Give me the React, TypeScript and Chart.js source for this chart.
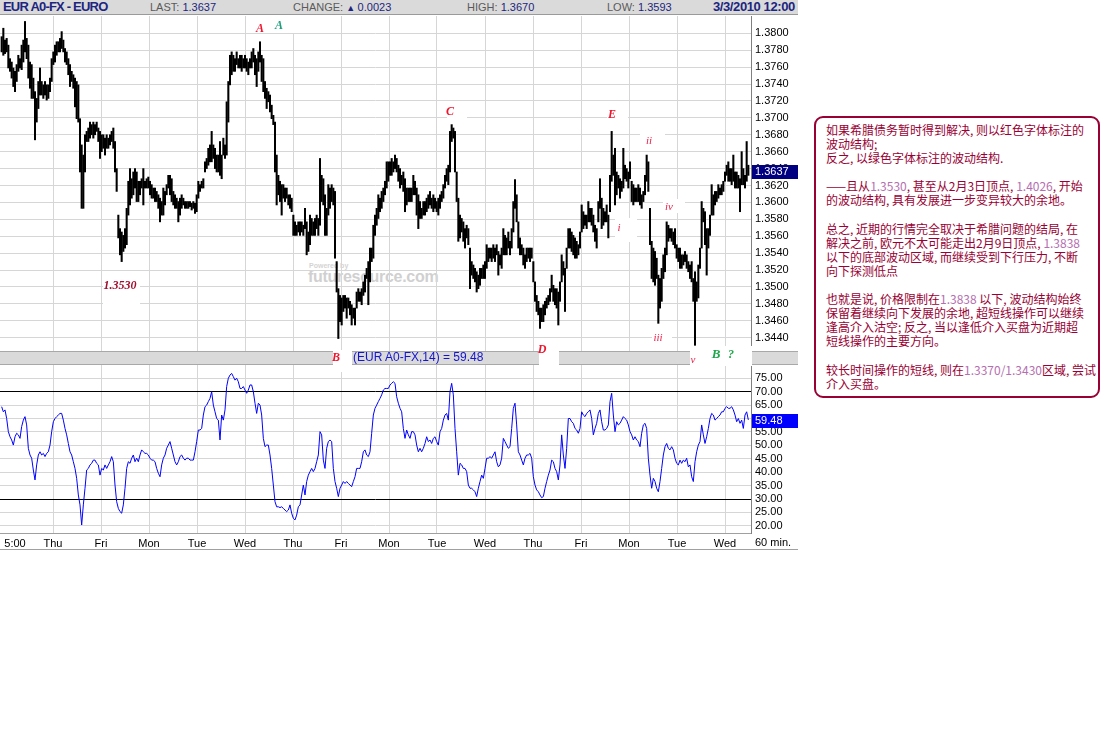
import React, { useEffect, useRef } from "react";
import { Chart, registerables } from "chart.js";
Chart.register(...registerables);

// ---------- DATA ----------
const priceHigh = [
1.3796,1.3806,1.3792,1.3794,1.3786,1.3770,1.3766,1.3759,1.3755,1.3763,
1.3774,1.3770,1.3786,1.3792,1.3814,1.3794,1.3786,1.3766,1.3763,1.3747,
1.3731,1.3723,1.3743,1.3759,1.3743,1.3739,1.3743,1.3739,1.3739,1.3747,
1.3770,1.3778,1.3786,1.3790,1.3790,1.3794,1.3802,1.3792,1.3782,1.3778,
1.3770,1.3763,1.3755,1.3751,1.3747,1.3743,1.3739,1.3699,1.3668,1.3656,
1.3680,1.3684,1.3688,1.3695,1.3692,1.3695,1.3692,1.3695,1.3688,1.3684,
1.3680,1.3680,1.3676,1.3680,1.3676,1.3680,1.3684,1.3688,1.3672,1.3640,
1.3585,1.3569,1.3565,1.3561,1.3569,1.3593,1.3625,1.3640,1.3628,1.3636,
1.3640,1.3636,1.3625,1.3625,1.3628,1.3640,1.3625,1.3628,1.3630,1.3625,
1.3621,1.3617,1.3617,1.3613,1.3609,1.3605,1.3601,1.3617,1.3613,1.3621,
1.3632,1.3632,1.3628,1.3613,1.3609,1.3605,1.3601,1.3605,1.3609,1.3605,
1.3601,1.3601,1.3601,1.3601,1.3599,1.3601,1.3599,1.3609,1.3625,1.3621,
1.3625,1.3628,1.3648,1.3652,1.3664,1.3668,1.3684,1.3668,1.3664,1.3656,
1.3656,1.3672,1.3656,1.3676,1.3668,1.3719,1.3743,1.3774,1.3778,1.3774,
1.3770,1.3778,1.3770,1.3774,1.3774,1.3770,1.3774,1.3770,1.3766,1.3770,
1.3778,1.3782,1.3774,1.3770,1.3778,1.3790,1.3774,1.3770,1.3743,1.3735,
1.3731,1.3727,1.3715,1.3703,1.3695,1.3656,1.3632,1.3625,1.3621,1.3621,
1.3617,1.3617,1.3609,1.3609,1.3605,1.3585,1.3577,1.3573,1.3577,1.3577,
1.3577,1.3573,1.3593,1.3577,1.3565,1.3585,1.3581,1.3577,1.3581,1.3585,
1.3581,1.3652,1.3632,1.3628,1.3609,1.3593,1.3621,1.3617,1.3621,1.3617,
1.3613,1.3530,1.3498,1.3490,1.3487,1.3490,1.3490,1.3487,1.3487,1.3483,
1.3479,1.3475,1.3475,1.3494,1.3498,1.3494,1.3498,1.3506,1.3514,1.3522,
1.3530,1.3546,1.3546,1.3573,1.3585,1.3593,1.3609,1.3605,1.3613,1.3617,
1.3625,1.3648,1.3648,1.3648,1.3652,1.3648,1.3656,1.3652,1.3644,1.3640,
1.3632,1.3636,1.3628,1.3617,1.3617,1.3617,1.3617,1.3632,1.3625,1.3617,
1.3609,1.3601,1.3593,1.3601,1.3601,1.3605,1.3609,1.3613,1.3605,1.3609,
1.3605,1.3601,1.3605,1.3609,1.3613,1.3621,1.3632,1.3640,1.3644,1.3684,
1.3692,1.3688,1.3684,1.3636,1.3605,1.3585,1.3581,1.3577,1.3569,1.3573,
1.3569,1.3546,1.3530,1.3526,1.3522,1.3518,1.3514,1.3522,1.3522,1.3526,
1.3530,1.3550,1.3546,1.3546,1.3546,1.3550,1.3546,1.3550,1.3542,1.3538,
1.3546,1.3569,1.3561,1.3558,1.3565,1.3554,1.3569,1.3601,1.3627,1.3609,
1.3577,1.3558,1.3550,1.3546,1.3538,1.3546,1.3546,1.3546,1.3546,1.3530,
1.3506,1.3490,1.3483,1.3475,1.3475,1.3479,1.3483,1.3487,1.3490,1.3498,
1.3514,1.3502,1.3498,1.3498,1.3494,1.3506,1.3538,1.3530,1.3522,1.3546,
1.3569,1.3569,1.3565,1.3561,1.3558,1.3554,1.3550,1.3565,1.3597,1.3589,
1.3585,1.3585,1.3601,1.3593,1.3593,1.3585,1.3573,1.3569,1.3601,1.3628,
1.3605,1.3593,1.3589,1.3597,1.3585,1.3632,1.3684,1.3656,1.3664,1.3636,
1.3632,1.3628,1.3625,1.3664,1.3644,1.3640,1.3636,1.3648,1.3625,1.3621,
1.3617,1.3617,1.3621,1.3617,1.3609,1.3613,1.3632,1.3656,1.3648,1.3593,
1.3554,1.3546,1.3542,1.3534,1.3514,1.3510,1.3522,1.3538,1.3546,1.3577,
1.3573,1.3569,1.3569,1.3565,1.3569,1.3550,1.3546,1.3546,1.3538,1.3538,
1.3542,1.3538,1.3530,1.3526,1.3530,1.3510,1.3518,1.3506,1.3526,1.3546,
1.3601,1.3593,1.3589,1.3569,1.3569,1.3585,1.3621,1.3609,1.3613,1.3613,
1.3621,1.3617,1.3621,1.3625,1.3636,1.3644,1.3648,1.3640,1.3640,1.3656,
1.3636,1.3636,1.3632,1.3628,1.3660,1.3640,1.3632,1.3672,1.3644
];

const priceLow = [
1.3778,1.3774,1.3776,1.3778,1.3759,1.3755,1.3747,1.3737,1.3731,1.3743,
1.3755,1.3759,1.3757,1.3766,1.3778,1.3770,1.3747,1.3735,1.3723,1.3723,
1.3674,1.3695,1.3711,1.3727,1.3727,1.3723,1.3727,1.3721,1.3723,1.3731,
1.3743,1.3763,1.3766,1.3774,1.3778,1.3778,1.3782,1.3778,1.3766,1.3763,
1.3751,1.3737,1.3743,1.3735,1.3713,1.3699,1.3695,1.3636,1.3593,1.3593,
1.3636,1.3672,1.3672,1.3676,1.3680,1.3676,1.3680,1.3684,1.3672,1.3652,
1.3660,1.3664,1.3656,1.3664,1.3664,1.3668,1.3672,1.3664,1.3636,1.3613,
1.3558,1.3538,1.3530,1.3542,1.3546,1.3550,1.3585,1.3597,1.3605,1.3609,
1.3617,1.3601,1.3601,1.3609,1.3617,1.3597,1.3617,1.3617,1.3617,1.3609,
1.3605,1.3605,1.3601,1.3601,1.3593,1.3577,1.3585,1.3585,1.3597,1.3609,
1.3617,1.3609,1.3601,1.3597,1.3593,1.3593,1.3577,1.3585,1.3593,1.3597,
1.3593,1.3593,1.3593,1.3595,1.3591,1.3593,1.3587,1.3589,1.3605,1.3613,
1.3617,1.3617,1.3636,1.3640,1.3644,1.3648,1.3648,1.3652,1.3640,1.3636,
1.3636,1.3632,1.3628,1.3656,1.3652,1.3656,1.3695,1.3739,1.3751,1.3755,
1.3755,1.3763,1.3759,1.3759,1.3755,1.3759,1.3759,1.3755,1.3751,1.3759,
1.3759,1.3766,1.3751,1.3737,1.3755,1.3766,1.3743,1.3731,1.3723,1.3711,
1.3719,1.3707,1.3699,1.3692,1.3636,1.3597,1.3609,1.3601,1.3585,1.3605,
1.3601,1.3605,1.3597,1.3593,1.3589,1.3561,1.3561,1.3561,1.3565,1.3561,
1.3565,1.3561,1.3569,1.3538,1.3542,1.3550,1.3561,1.3561,1.3561,1.3569,
1.3561,1.3573,1.3601,1.3597,1.3561,1.3561,1.3585,1.3593,1.3601,1.3597,
1.3534,1.3494,1.3439,1.3459,1.3455,1.3471,1.3475,1.3463,1.3475,1.3467,
1.3455,1.3463,1.3455,1.3475,1.3483,1.3483,1.3479,1.3490,1.3494,1.3510,
1.3479,1.3506,1.3530,1.3534,1.3561,1.3573,1.3581,1.3589,1.3593,1.3601,
1.3609,1.3617,1.3625,1.3632,1.3632,1.3636,1.3640,1.3636,1.3625,1.3617,
1.3621,1.3613,1.3589,1.3597,1.3601,1.3601,1.3601,1.3609,1.3609,1.3585,
1.3569,1.3581,1.3581,1.3585,1.3585,1.3589,1.3593,1.3597,1.3593,1.3589,
1.3593,1.3589,1.3585,1.3593,1.3601,1.3605,1.3617,1.3625,1.3621,1.3636,
1.3672,1.3676,1.3636,1.3601,1.3554,1.3558,1.3565,1.3554,1.3546,1.3558,
1.3550,1.3498,1.3514,1.3510,1.3506,1.3494,1.3498,1.3502,1.3510,1.3510,
1.3510,1.3522,1.3530,1.3534,1.3530,1.3534,1.3530,1.3538,1.3514,1.3526,
1.3522,1.3538,1.3538,1.3538,1.3546,1.3538,1.3546,1.3565,1.3593,1.3577,
1.3546,1.3538,1.3538,1.3526,1.3522,1.3530,1.3534,1.3530,1.3534,1.3506,
1.3483,1.3471,1.3467,1.3451,1.3459,1.3459,1.3467,1.3475,1.3479,1.3483,
1.3494,1.3483,1.3479,1.3475,1.3455,1.3483,1.3506,1.3514,1.3471,1.3522,
1.3546,1.3546,1.3542,1.3538,1.3534,1.3534,1.3538,1.3546,1.3565,1.3569,
1.3573,1.3569,1.3577,1.3577,1.3573,1.3565,1.3554,1.3546,1.3577,1.3593,
1.3569,1.3573,1.3577,1.3577,1.3558,1.3589,1.3625,1.3632,1.3597,1.3609,
1.3617,1.3605,1.3613,1.3617,1.3628,1.3625,1.3617,1.3628,1.3601,1.3597,
1.3601,1.3601,1.3601,1.3597,1.3593,1.3601,1.3609,1.3625,1.3613,1.3550,
1.3510,1.3506,1.3502,1.3510,1.3457,1.3475,1.3483,1.3510,1.3518,1.3538,
1.3554,1.3558,1.3554,1.3550,1.3546,1.3534,1.3530,1.3522,1.3522,1.3526,
1.3530,1.3522,1.3518,1.3510,1.3506,1.3483,1.3431,1.3483,1.3487,1.3522,
1.3546,1.3577,1.3550,1.3514,1.3546,1.3561,1.3585,1.3585,1.3597,1.3601,
1.3605,1.3609,1.3609,1.3613,1.3625,1.3632,1.3625,1.3625,1.3621,1.3625,
1.3617,1.3617,1.3617,1.3589,1.3621,1.3621,1.3617,1.3625,1.3632
];

const rsiValues = [
64.4,62.5,63.2,60,55.1,53.2,52,50.1,53.2,54.5,
53.9,52.6,57,59.4,60.7,57.6,48.9,46.4,45.2,40.8,
37.1,42.7,46.4,47.6,46.4,47,45.8,47,47.6,50.1,
55.1,58.8,60,60.7,61.3,61.9,61.9,59.4,56.3,53.9,
50.7,47.6,46.4,43.9,41.4,37.7,31.5,27.8,20.3,27.8,
34,40.8,41.4,42.7,43.3,44.5,44.5,43.3,42.7,38.9,
41.4,40.8,42.7,41.4,42.7,43.9,45.8,43.9,35.2,29,
26.5,25.3,24.7,27.8,34,41.4,43.9,43.3,45.2,46.4,
43.9,45.2,43.9,46.4,48.3,47.6,47,47,46.4,45.2,
44.5,44.5,43.9,41.4,39.6,38.3,42.7,45.2,46.4,48.9,
50.1,51.4,48.9,46.4,43.9,42.7,43.9,45.8,46.4,45.2,
44.5,45.2,45.2,44.5,44.5,44.5,47.6,51.4,55.7,55.7,
56.3,61.3,64.4,65,66.3,67.5,70,65,62.5,60,
59.4,52,61.3,59.4,63.2,71.9,75,76.2,76.8,75.6,
74.3,75,73.7,71.2,71.2,71.9,70.6,69.4,70.6,72.5,
72.5,70,65.7,61.9,65.7,65,61.3,52.6,49.5,50.1,
50.1,46.4,41.4,35.2,29,27.1,27.1,26.8,27.1,26.5,
25.9,25.3,25.9,27.8,24.7,22.8,22.2,24,27.1,27.8,
31.5,35.2,31.5,36.5,38.9,40.2,41.4,40.2,41.4,43.9,
46.4,55.1,53.9,44.5,41.4,48.9,51.4,52,51.4,41.4,
36.5,34,30.9,34,35.2,36.5,35.8,36.5,35.8,35.2,
34.6,36.5,38.3,41.4,41.4,41.4,43.9,47.6,48.3,46.4,
45.8,47.6,54.5,61.3,63.8,65,66.3,67.5,68.8,70.6,
71.2,71.2,71.2,72.5,73.1,73.7,73.1,68.1,65.7,63.8,
62.5,56.3,52.6,55.7,53.9,52.6,55.1,55.1,53.9,50.1,
47.6,48.9,47.6,48.9,50.7,53.2,51.4,52,50.7,52.6,
53.2,51.4,50.1,55.1,56.3,59.4,61.3,61.9,59.4,70,
73.1,68.8,56.3,47.6,38.9,43.3,42.7,41.4,41.4,40.2,
35.2,34,34,33.4,32.7,30.9,34,36.5,38.9,37.7,
41.4,45.2,45.2,45.8,45.2,46.4,47.6,43.9,42,42.7,
45.2,52.6,51.4,50.1,48.9,49.5,56.3,63.8,65.7,57.6,
47.6,46.4,44.5,42.7,45.2,46.4,46.4,47,45.2,38.3,
35.2,33.4,32.7,31.5,30.5,30.9,34,36.5,38.9,40.8,
44.5,43.9,41.4,40.2,37.1,42.7,53.9,46.4,41.4,48.9,
60,60,58.8,58.2,56.3,55.7,54.5,56.3,62.5,61.3,
60.7,61.9,62.5,63.2,60,53.9,56.3,58.2,61.9,63.2,
58.8,55.7,55.7,56.3,57.6,66.3,69.4,61.3,55.1,58.8,
57.6,58.2,59.4,60.7,60,59.4,57.6,55.1,53.9,52,
53.2,52,51.4,49.5,54.5,57.6,58.2,56.3,45.2,38.9,
34,37.7,36.5,34,32.7,36.5,41.4,46.4,49.5,50.7,
48.9,48.3,49.5,48.3,45.2,43.3,42.7,44.5,43.3,44.5,
43.9,45.2,42,42.7,38.3,36.5,43.9,47.6,50.1,51.4,
57.6,53.9,50.7,53.2,56.3,60,61.9,61.3,59.4,60,
60.7,61.3,62.5,62.5,63.8,64.4,63.8,63.8,64.4,63.2,
61.3,58.8,60,58.2,59.4,56.3,61.3,62.5,59.48
];

const priceTicks = [1.344,1.346,1.348,1.35,1.352,1.354,1.356,1.358,1.36,1.362,1.364,1.366,1.368,1.37,1.372,1.374,1.376,1.378,1.38];
const rsiTicks = [20,25,30,35,40,45,50,55,60,65,70,75];
const rsiBands = [30, 70];
const dayLabels = ["Thu","Fri","Mon","Tue","Wed","Thu","Fri","Mon","Tue","Wed","Thu","Fri","Mon","Tue","Wed"];
const dayTickPos = [31.8,60.6,89.4,118.2,147,175.8,204.6,233.4,262.2,291,319.8,348.6,377.4,406.2,435];
const startLabel = "5:00";
const startTickPos = 9;
const lastPrice = 1.3637;
const lastRsi = 59.48;

const X_MAX = 450.6;
const P_MIN = 1.342427, P_MAX = 1.382046;
const R_MIN = 17.33, R_MAX = 79.94;
const GRID = "#d6d6d6";
const FONT = 'Arial, "Liberation Sans", sans-serif';

const textLines = [
  "如果希腊债务暂时得到解决, 则以红色字体标注的",
  "波动结构;",
  "反之, 以绿色字体标注的波动结构.",
  "",
  "——且从1.3530, 甚至从2月3日顶点, 1.4026, 开始",
  "的波动结构, 具有发展进一步变异较大的余地。",
  "",
  "总之, 近期的行情完全取决于希腊问题的结局, 在",
  "解决之前, 欧元不太可能走出2月9日顶点, 1.3838",
  "以下的底部波动区域, 而继续受到下行压力, 不断",
  "向下探测低点",
  "",
  "也就是说, 价格限制在1.3838 以下, 波动结构始终",
  "保留着继续向下发展的余地, 超短线操作可以继续",
  "逢高介入沽空; 反之, 当以逢低介入买盘为近期超",
  "短线操作的主要方向。",
  "",
  "较长时间操作的短线, 则在1.3370/1.3430区域, 尝试",
  "介入买盘。",
];

const RED = "#f0142d";
const GREEN = "#1fa84a";
type Lbl = { t: string; x: number; y: number; c: string; s?: number; b?: boolean };
const waveLabels: Lbl[] = [
  { t: "A", x: 260, y: 28, c: RED, b: true },
  { t: "A", x: 279, y: 25, c: "#1aa07a", b: true },
  { t: "1.3530", x: 120, y: 285, c: "#a01030", s: 12, b: true },
  { t: "B", x: 336, y: 357, c: RED, b: true },
  { t: "C", x: 450, y: 111, c: RED, b: true },
  { t: "D", x: 542, y: 349, c: RED, b: true },
  { t: "E", x: 612, y: 114, c: RED, b: true },
  { t: "ii", x: 649, y: 140, c: "#e8224a", s: 11 },
  { t: "i", x: 619, y: 227, c: "#e8224a", s: 11 },
  { t: "iv", x: 669, y: 206, c: "#e8224a", s: 11 },
  { t: "iii", x: 658, y: 337, c: "#e8224a", s: 11 },
  { t: "v", x: 693, y: 359, c: "#e8224a", s: 11 },
  { t: "B", x: 716, y: 354, c: GREEN, s: 13, b: true },
  { t: "?", x: 731, y: 354, c: GREEN, s: 12, b: true },
];
const whiteBoxes = [
  [255, 16, 45, 17], [103, 277, 37, 28], [333, 350, 19, 22], [447, 102, 20, 16],
  [539, 341, 20, 25], [607, 106, 21, 17], [640, 132, 25, 15], [615, 218, 22, 24],
  [663, 199, 22, 14], [652, 330, 20, 21], [690, 351, 62, 15], [712, 346, 40, 20],
];

function lastBox(value: number, color: string, digits: number) {
  return {
    id: "lastBox" + color,
    afterDraw(chart: any) {
      const { ctx, chartArea, scales } = chart;
      const y = scales.y.getPixelForValue(value);
      ctx.save();
      ctx.fillStyle = color;
      ctx.fillRect(chartArea.right + 1, Math.round(y) - 6, 46, 14);
      ctx.fillStyle = "#fff";
      ctx.font = "11px " + FONT;
      ctx.textBaseline = "middle";
      ctx.textAlign = "left";
      ctx.fillText(value.toFixed(digits), chartArea.right + 4, Math.round(y) + 1);
      ctx.restore();
    },
  };
}

function App() {
  const priceRef = useRef<HTMLCanvasElement>(null);
  const rsiRef = useRef<HTMLCanvasElement>(null);

  useEffect(() => {
    document.body.style.margin = "0";
    const zeroPad = (s: any) => { s.paddingTop = 0; s.paddingBottom = 0; s.paddingLeft = 0; s.paddingRight = 0; };
    const price = new Chart(priceRef.current as HTMLCanvasElement, {
      type: "bar",
      data: {
        datasets: [{
          data: priceHigh.map((h, i) => ({ x: i + 1, y: [priceLow[i], h] })) as any,
          backgroundColor: "#000",
          borderWidth: 0,
          barThickness: 1.4,
        }],
      },
      options: {
        animation: false, responsive: false, events: [],
        layout: { padding: 0, autoPadding: false },
        plugins: { legend: { display: false }, tooltip: { enabled: false } },
        scales: {
          x: {
            type: "linear", min: 0, max: X_MAX, offset: false,
            grid: { color: GRID, drawTicks: false, offset: false },
            border: { display: false },
            ticks: { display: false },
            afterBuildTicks: (s: any) => { s.ticks = dayTickPos.map((v) => ({ value: v })); },
            afterFit: (s: any) => { s.height = 0; zeroPad(s); },
          },
          y: {
            position: "right", min: P_MIN, max: P_MAX,
            grid: { color: GRID, drawTicks: false },
            border: { display: true, color: "#808080" },
            ticks: { autoSkip: false, padding: 4, color: "#000", font: { family: FONT, size: 11 }, callback: (v: any) => Number(v).toFixed(4) },
            afterBuildTicks: (s: any) => { s.ticks = priceTicks.map((v) => ({ value: v })); },
            afterFit: (s: any) => { s.width = 47; zeroPad(s); },
          },
        },
      } as any,
      plugins: [lastBox(lastPrice, "#000080", 4)],
    });

    const allPos = [startTickPos, ...dayTickPos];
    const allLabels = [startLabel, ...dayLabels];
    const rsi = new Chart(rsiRef.current as HTMLCanvasElement, {
      type: "line",
      data: {
        datasets: [{
          data: rsiValues.map((v, i) => ({ x: i + 1, y: v })),
          borderColor: "#0000ff", borderWidth: 1, pointRadius: 0, tension: 0, fill: false,
        }],
      },
      options: {
        animation: false, responsive: false, events: [],
        layout: { padding: 0, autoPadding: false },
        plugins: { legend: { display: false }, tooltip: { enabled: false } },
        scales: {
          x: {
            type: "linear", min: 0, max: X_MAX, offset: false,
            grid: { color: (c: any) => (c.index === 0 ? "rgba(0,0,0,0)" : GRID), drawTicks: false },
            border: { display: true, color: "#a0a0a0" },
            ticks: { autoSkip: false, maxRotation: 0, padding: 4, color: "#000", font: { family: FONT, size: 11 }, callback: (_v: any, i: number) => allLabels[i] },
            afterBuildTicks: (s: any) => { s.ticks = allPos.map((v) => ({ value: v })); },
            afterFit: (s: any) => { s.height = 17; zeroPad(s); },
          },
          y: {
            position: "right", min: R_MIN, max: R_MAX,
            grid: { color: (c: any) => (c.tick && rsiBands.includes(c.tick.value) ? "#000" : GRID), drawTicks: false },
            border: { display: true, color: "#808080" },
            ticks: { autoSkip: false, padding: 4, color: "#000", font: { family: FONT, size: 11 }, callback: (v: any) => Number(v).toFixed(2) },
            afterBuildTicks: (s: any) => { s.ticks = rsiTicks.map((v) => ({ value: v })); },
            afterFit: (s: any) => { s.width = 47; zeroPad(s); },
          },
        },
      } as any,
      plugins: [lastBox(lastRsi, "#0000ff", 2)],
    });
    return () => { price.destroy(); rsi.destroy(); };
  }, []);

  const abs = (l: number, t: number, extra: any = {}) => ({ position: "absolute", left: l, top: t, ...extra } as React.CSSProperties);
  const hdr = { fontFamily: FONT, fontSize: 11, lineHeight: "14px", whiteSpace: "nowrap" } as React.CSSProperties;
  const gray = "#5a5a5a", navy = "#1c2580";

  const renderLine = (s: string) =>
    s.split(/(\d\.\d{4}(?:\/\d\.\d{4})?)/).map((p, i) =>
      /^\d\.\d{4}/.test(p) ? <span key={i} style={{ color: "#b56fb0" }}>{p}</span> : <span key={i}>{p}</span>
    );

  return (
    <div style={{ position: "relative", width: 1107, height: 732, background: "#fff", overflow: "hidden" }}>
      {/* header */}
      <div style={abs(0, 0, { width: 798, height: 14, background: "#dadada", borderBottom: "1px solid #9a9a9a" })} />
      <div style={abs(3, 0, { ...hdr, fontSize: 13, fontWeight: "bold", color: navy, letterSpacing: -0.8 })}>EUR A0-FX - EURO</div>
      <div style={abs(150, 0, hdr)}><span style={{ color: gray }}>LAST: </span><span style={{ color: navy }}>1.3637</span></div>
      <div style={abs(293, 0, hdr)}><span style={{ color: gray }}>CHANGE: </span><span style={{ color: navy, fontSize: 9 }}>▲ </span><span style={{ color: navy }}>0.0023</span></div>
      <div style={abs(467, 0, hdr)}><span style={{ color: gray }}>HIGH: </span><span style={{ color: navy }}>1.3670</span></div>
      <div style={abs(607, 0, hdr)}><span style={{ color: gray }}>LOW: </span><span style={{ color: navy }}>1.3593</span></div>
      <div style={abs(713, 0, { ...hdr, fontSize: 13, fontWeight: "bold", color: navy, letterSpacing: -0.4 })}>3/3/2010 12:00</div>

      {/* watermark (behind the bars) */}
      <div style={abs(309, 262, { fontFamily: FONT, fontSize: 7, color: "#d4d4d4", fontWeight: "bold" })}>Powered by</div>
      <div style={abs(308, 268, { fontFamily: FONT, fontSize: 16, lineHeight: "18px", color: "#d0d0d0", fontWeight: "bold", letterSpacing: -0.3 })}>futuresource.com</div>

      <canvas ref={priceRef} width={798} height={335} style={abs(0, 16, { display: "block" })} />

      {/* RSI title bar */}
      <div style={abs(0, 351, { width: 798, height: 12, background: "#dadada", borderTop: "1px solid #a8a8a8", borderBottom: "1px solid #a8a8a8" })} />
      <div style={abs(353, 350, { fontFamily: FONT, fontSize: 12, lineHeight: "15px", color: "#1414d0", whiteSpace: "nowrap" })}>(EUR A0-FX,14) = 59.48</div>

      <canvas ref={rsiRef} width={798} height={185} style={abs(0, 365, { display: "block" })} />
      <div style={abs(0, 549, { width: 798, height: 1, background: "#a0a0a0" })} />
      <div style={abs(755, 536, { fontFamily: FONT, fontSize: 11, lineHeight: "13px", color: "#000", whiteSpace: "nowrap" })}>60 min.</div>

      {/* annotation labels */}
      {whiteBoxes.map((b, i) => (
        <div key={"w" + i} style={abs(b[0], b[1], { width: b[2], height: b[3], background: "#fff" })} />
      ))}
      {waveLabels.map((l, i) => (
        <div key={"l" + i} style={abs(l.x - 30, l.y - 8, {
          width: 60, textAlign: "center", lineHeight: "16px", fontFamily: '"Liberation Serif", "DejaVu Serif", serif',
          fontStyle: "italic", fontWeight: l.b ? "bold" : "normal", fontSize: l.s || 12, color: l.c, whiteSpace: "nowrap",
        })}>{l.t}</div>
      ))}

      {/* comment box */}
      <div style={abs(814, 116, { width: 286, height: 282, boxSizing: "border-box", border: "2px solid #990033", borderRadius: 9 })} />
      <div style={abs(826, 123, { fontFamily: '"Noto Sans CJK SC", sans-serif', fontSize: 12, lineHeight: "14.1px", color: "#990033" })}>
        {textLines.map((s, i) => (
          <div key={i} style={{ height: 14.1, whiteSpace: "nowrap" }}>{renderLine(s)}</div>
        ))}
      </div>
    </div>
  );
}

export default App;
